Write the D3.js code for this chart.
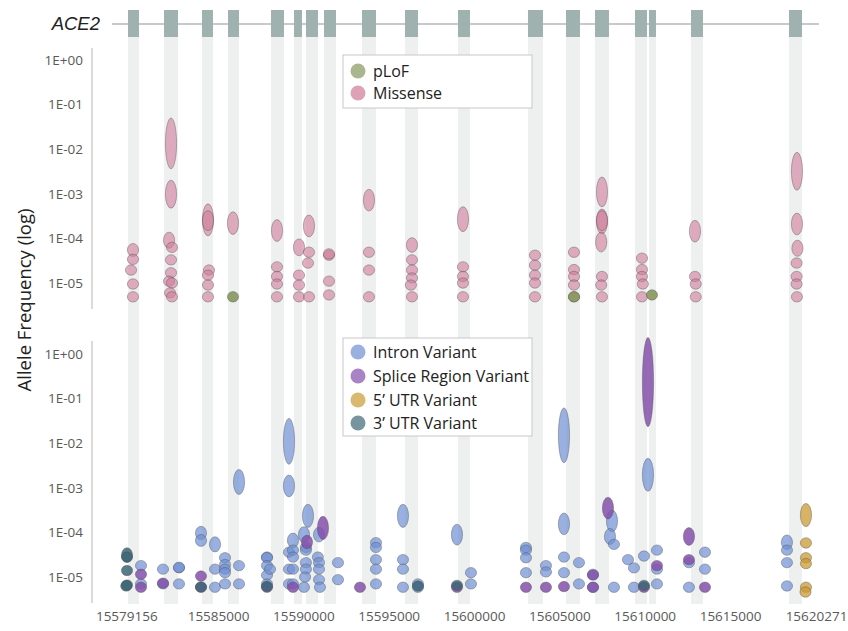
<!DOCTYPE html>
<html><head><meta charset="utf-8">
<script src="https://cdn.jsdelivr.net/npm/d3@7"></script>
<style>
html,body{margin:0;padding:0;background:#fff;}
svg{display:block;font-family:"Open Sans",sans-serif;}
</style></head>
<body>
<svg id="chart" width="848" height="631"></svg>
<script>
// ---------- DATA ----------
const geneName = "ACE2";
const geneSpan = [15578787, 15620210];
const exonStarts = [15579724,15581834,15584060,15585583,15588103,15589450,15590153,15591208,15593435,15595954,15599059,15603160,15605387,15607086,15609429,15610250,15612711,15618453];
const exonEnds   = [15580369,15582654,15584705,15586228,15588864,15589919,15590857,15591911,15594255,15596715,15599762,15604039,15606207,15607906,15610133,15610660,15613414,15619214];
const xDomain = [15579156, 15620271];
const xTickValues = [15579156,15585000,15590000,15595000,15600000,15605000,15610000,15615000,15620271];
const yTickValues = [1,1e-1,1e-2,1e-3,1e-4,1e-5];
const yTickLabels = ["1E+00","1E-01","1E-02","1E-03","1E-04","1E-05"];

// [position, allele frequency, spread (log10 range)]
const pLoF = [[15585876,4.9e-6,0],[15605856,4.9e-6,0],[15610425,5.4e-6,0]];
const missense = [
 [15580017,5.5e-5,0.29],[15580017,3.4e-5,0],[15579900,1.95e-5,0],[15580017,9.5e-6,0],[15580017,4.9e-6,0],
 [15582244,1.35e-2,1.14],[15582244,9.8e-4,0.63],[15582130,9.1e-5,0.36],[15582300,6.3e-5,0],[15582244,3.3e-5,0],[15582244,1.7e-5,0],[15582130,1.1e-5,0],[15582300,1.0e-5,0],[15582190,6.0e-6,0],[15582300,4.9e-6,0],
 [15584412,2.6e-4,0.72],[15584412,2.5e-4,0.45],[15584470,1.95e-5,0],[15584412,1.5e-5,0],[15584412,9.0e-6,0],[15584412,4.9e-6,0],
 [15585876,2.2e-4,0.51],
 [15588454,1.5e-4,0.49],[15588454,2.3e-5,0],[15588454,1.4e-5,0],[15588454,9.5e-6,0],[15588454,4.9e-6,0],
 [15589743,6.3e-5,0.38],[15589743,1.5e-5,0],[15589743,9.0e-6,0],[15589743,4.9e-6,0],
 [15590329,1.9e-4,0.49],[15590329,4.9e-5,0],[15590270,2.8e-5,0],[15590329,4.9e-6,0],
 [15591501,4.2e-5,0],[15591501,4.5e-5,0],[15591501,1.1e-5,0],[15591501,5.4e-6,0],
 [15593844,7.2e-4,0.49],[15593844,4.9e-5,0],[15593844,1.95e-5,0],[15593844,4.9e-6,0],
 [15596364,7.1e-5,0.33],[15596364,3.3e-5,0],[15596364,1.95e-5,0],[15596364,1.3e-5,0],[15596300,9.0e-6,0],[15596364,4.9e-6,0],
 [15599352,2.7e-4,0.56],[15599352,2.3e-5,0],[15599352,1.4e-5,0],[15599352,1.0e-5,0],[15599352,4.9e-6,0],
 [15603570,4.2e-5,0],[15603570,2.5e-5,0],[15603570,1.5e-5,0],[15603570,1.0e-5,0],[15603570,4.9e-6,0],
 [15605856,4.9e-5,0],[15605856,2.0e-5,0],[15605856,1.4e-5,0],[15605856,9.0e-6,0],[15605856,4.9e-6,0],
 [15607496,1.1e-3,0.67],[15607496,2.4e-4,0.56],[15607496,2.5e-4,0.45],[15607450,8.3e-5,0.45],[15607496,1.4e-5,0],[15607450,9.0e-6,0],[15607496,4.9e-6,0],
 [15609840,3.6e-5,0],[15609840,2.0e-5,0],[15609840,1.4e-5,0],[15609890,9.5e-6,0],[15609840,4.9e-6,0],
 [15612945,1.45e-4,0.49],[15612945,1.4e-5,0],[15612990,9.5e-6,0],[15612990,4.9e-6,0],
 [15618921,3.2e-3,0.85],[15618921,2.1e-4,0.49],[15618950,6.0e-5,0.36],[15618900,2.8e-5,0],[15618900,1.4e-5,0],[15618900,9.5e-6,0],[15618921,4.9e-6,0]
];
const intron = [
 [15580486,1.8e-5,0],[15580486,7e-6,0],
 [15581775,1.5e-5,0],[15581775,7e-6,0],
 [15582712,1.6e-5,0],[15582712,1.65e-5,0],[15582712,7e-6,0],
 [15584001,9.7e-5,0.3],[15584001,6.6e-5,0.27],
 [15584822,5.4e-5,0.34],[15584822,1.5e-5,0],[15584822,5.9e-6,0],
 [15585408,2.7e-5,0],[15585408,1.9e-5,0],[15585408,1.5e-5,0],[15585408,1.25e-5,0],[15585408,7e-6,0],
 [15586228,1.35e-3,0.56],[15586228,1.8e-5,0],[15586228,7e-6,0],
 [15587868,2.8e-5,0],[15587868,2.7e-5,0],[15587868,1.8e-5,0],[15587868,1.1e-5,0],[15587868,7e-6,0],
 [15588044,1.5e-5,0],
 [15589157,1.1e-2,1.03],[15589157,1.1e-3,0.49],[15589157,3.6e-5,0],[15589157,1.5e-5,0],[15589157,7e-6,0],
 [15589391,6.6e-5,0.33],[15589391,4e-5,0],[15589391,2.8e-5,0],[15589391,1.5e-5,0],[15589391,7e-6,0],
 [15590036,8.9e-5,0.36],[15590150,4.6e-5,0],[15590150,4e-5,0],[15590150,2.1e-5,0],[15590150,1.5e-5,0],[15590100,1e-5,0],[15590036,5.9e-6,0],
 [15590270,2.35e-4,0.52],
 [15590915,8.9e-5,0.33],[15590850,2.8e-5,0],[15590915,2.1e-5,0],[15590915,1.5e-5,0],[15590915,8.7e-6,0],[15590970,5.9e-6,0],
 [15592028,2.1e-5,0],[15592028,8.7e-6,0],
 [15594254,5.9e-5,0],[15594254,4.6e-5,0],[15594254,2.45e-5,0],[15594254,1.5e-5,0],[15594254,7e-6,0],
 [15595836,2.35e-4,0.52],[15595836,2.45e-5,0],[15595836,1.5e-5,0],[15595836,5.9e-6,0],
 [15596715,7e-6,0],[15596715,5.9e-6,0],
 [15599000,8.9e-5,0.47],
 [15599820,1.25e-5,0],[15599820,7e-6,0],
 [15603043,4.6e-5,0],[15603043,4e-5,0],[15603043,2.7e-5,0],[15603043,1.25e-5,0],
 [15604214,1.8e-5,0],[15604214,1.3e-5,0],
 [15605269,1.5e-2,1.23],[15605269,1.55e-4,0.49],[15605269,2.8e-5,0],[15605269,1.25e-5,0],
 [15606148,2.1e-5,0],[15606148,7e-6,0],
 [15606969,1.15e-5,0],[15606969,5.9e-6,0],
 [15608082,1.8e-4,0.49],[15607965,8.1e-5,0.36],[15608199,5.4e-5,0],[15608199,5.9e-6,0],
 [15609020,2.45e-5,0],
 [15609371,1.6e-5,0],[15609371,5.9e-6,0],
 [15609957,2.95e-5,0],
 [15610191,1.95e-3,0.74],
 [15610718,4e-5,0],[15610718,1.5e-5,0],[15610718,7e-6,0],
 [15612593,2.1e-5,0],[15612593,5.9e-6,0],
 [15613531,3.6e-5,0],[15613531,1.5e-5,0],
 [15618335,6e-5,0.33],[15618335,4e-5,0],[15618335,2.1e-5,0],[15618335,6.3e-6,0]
];
const splice = [
 [15580486,1.15e-5,0],[15580486,5.9e-6,0],[15581775,7.3e-6,0],[15584001,1.05e-5,0],[15584001,5.9e-6,0],
 [15587868,5.9e-6,0],[15589391,5.9e-6,0],[15590212,6.1e-5,0.3],[15591149,1.26e-4,0.52],[15593317,5.9e-6,0],
 [15599000,5.9e-6,0],[15603043,5.9e-6,0],[15604214,5.9e-6,0],[15605269,6.1e-6,0],[15606969,1.1e-5,0],
 [15606969,5.9e-6,0],[15607848,3.5e-4,0.49],[15609957,5.9e-6,0],[15610191,0.234,2.0],[15610718,1.8e-5,0],
 [15612593,8.1e-5,0.4],[15612593,2.45e-5,0],[15613531,5.9e-6,0]
];
const utr5 = [[15619448,2.45e-4,0.52],[15619448,5.8e-5,0],[15619448,2.7e-5,0],[15619448,2.0e-5,0],[15619448,5.9e-6,0],[15619420,4.6e-6,0]];
const utr3 = [
 [15579666,3.1e-5,0.33],[15579666,2.8e-5,0.2],[15579666,1.4e-5,0],[15579666,6.6e-6,0],[15579620,6.3e-6,0],
 [15584001,6e-6,0],[15587868,6.2e-6,0],[15596715,6.3e-6,0],[15599000,6.5e-6,0],[15609957,6.5e-6,0]
];

const upperSeries = [
 {name:"pLoF", color:"#86975c", data:pLoF},
 {name:"Missense", color:"#d07b99", data:missense}
];
const lowerSeries = [
 {name:"Intron Variant", color:"#6e8ed3", data:intron},
 {name:"Splice Region Variant", color:"#8550ab", data:splice},
 {name:"5\u2019 UTR Variant", color:"#c99a32", data:utr5},
 {name:"3\u2019 UTR Variant", color:"#3d6676", data:utr3}
];
const yTitle = "Allele Frequency (log)";

// ---------- DRAW ----------
const svg = d3.select("#chart");
const x = d3.scaleLinear().domain(xDomain).range([118.3, 820]);
const yU = d3.scaleLog().domain([1e-5, 1]).range([283, 60]);
const yL = d3.scaleLog().domain([1e-5, 1]).range([577, 354]);

// exon bands
svg.append("g").selectAll("rect").data(exonStarts).join("rect")
  .attr("x", (d,i)=>x(d)).attr("width",(d,i)=>x(exonEnds[i])-x(d))
  .attr("y", 37).attr("height", 567).attr("fill", "#edf0ef");

// gene track
svg.append("line").attr("x1", x(geneSpan[0])).attr("x2", x(geneSpan[1]))
  .attr("y1", 24).attr("y2", 24).attr("stroke", "#c9c9c9").attr("stroke-width", 2);
svg.append("g").selectAll("rect").data(exonStarts).join("rect")
  .attr("x", (d,i)=>x(d)).attr("width",(d,i)=>x(exonEnds[i])-x(d))
  .attr("y", 10).attr("height", 27).attr("fill", "#9fb2b0");
svg.append("text").attr("x", 100).attr("y", 30).attr("text-anchor","end")
  .attr("font-family","'Liberation Sans',Arial,sans-serif").attr("font-style","italic")
  .attr("font-size", 18.5).attr("fill","#222").text(geneName);

// y axes
function yAxis(y, top, bottom){
  svg.append("line").attr("x1",92).attr("x2",92).attr("y1",top).attr("y2",bottom)
    .attr("stroke","#b5b5b5").attr("stroke-width",1);
  const ax = d3.axisLeft(y).tickValues(yTickValues).tickSize(0).tickPadding(0)
    .tickFormat((d,i)=>yTickLabels[i]);
  const g = svg.append("g").attr("transform","translate(83,0)").call(ax);
  g.select(".domain").remove();
  g.selectAll("text").attr("font-family","'Open Sans',sans-serif").attr("font-size",13.5)
    .attr("fill","#595959");
}
yAxis(yU, 48, 309);
yAxis(yL, 341, 603);

// x axis labels
const xa = d3.axisBottom(x).tickValues(xTickValues).tickSize(0).tickPadding(0).tickFormat(d3.format("d"));
const xg = svg.append("g").attr("transform","translate(0,611)").call(xa);
xg.select(".domain").remove();
xg.selectAll("text").attr("font-family","'Open Sans',sans-serif").attr("font-size",13.5)
  .attr("fill","#595959")
  .attr("dx",(d,i)=> i===0 ? 8 : (i===xTickValues.length-1 ? -4 : 0));

// y title
svg.append("text").attr("transform","translate(31,300) rotate(-90)")
  .attr("text-anchor","middle").attr("font-size",18.5).attr("fill","#222")
  .attr("font-family","'Open Sans',sans-serif").text(yTitle);

// points
const rx = 5.6, ryMin = 5.2;
function drawSeries(series, y, opacity){
  const dec = y(1e-5) - y(1e-4);
  series.forEach(s=>{
    svg.append("g").selectAll("ellipse").data(s.data).join("ellipse")
      .attr("cx", d=>x(d[0])).attr("cy", d=>y(d[1]))
      .attr("rx", rx).attr("ry", d=>Math.max(ryMin, d[2]*dec/2))
      .attr("fill", s.color).attr("fill-opacity", opacity[s.name] || 0.7)
      .attr("stroke", "#4a4a4a").attr("stroke-opacity",0.55).attr("stroke-width",0.7);
  });
}
drawSeries([upperSeries[1], upperSeries[0]], yU, {"Missense":0.6, "pLoF":0.9});
drawSeries(lowerSeries, yL, {"Intron Variant":0.7, "Splice Region Variant":0.85, "5\u2019 UTR Variant":0.75, "3\u2019 UTR Variant":0.85});

// legends
function legend(series, x0, y0, w, h, rowY){
  const g = svg.append("g");
  g.append("rect").attr("x",x0).attr("y",y0).attr("width",w).attr("height",h)
    .attr("fill","#fff").attr("stroke","#c8c8c8").attr("stroke-width",1);
  series.forEach((s,i)=>{
    g.append("circle").attr("cx",x0+15).attr("cy",rowY[i]).attr("r",7.5)
      .attr("fill",s.color).attr("fill-opacity",0.7);
    g.append("text").attr("x",x0+30).attr("y",rowY[i]+5.5).attr("font-size",16)
      .attr("fill","#222").attr("font-family","'Open Sans',sans-serif").text(s.name);
  });
}
legend(upperSeries, 343, 55, 189, 53, [71, 93]);
legend(lowerSeries, 343, 338, 189, 98, [352, 376, 400, 423]);
</script>
</body></html>
